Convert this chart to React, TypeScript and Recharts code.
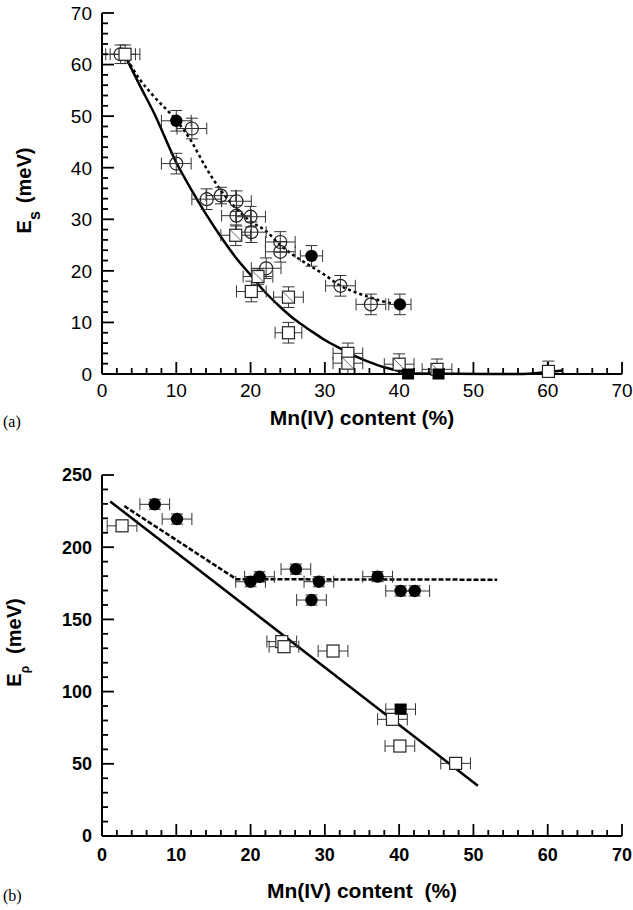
import React from "react";
import {
  ComposedChart,
  Scatter,
  Line,
  XAxis,
  YAxis,
  ErrorBar,
  Label,
} from "recharts";

const FONT = "'Liberation Sans', Arial, Helvetica, sans-serif";

// ---------- panel (a): E_s vs Mn(IV) content ----------
// ey may be [below, above] where the bar stops at the axis
const openCircleA = [
  { x: 2.5, y: 62, ex: 2, ey: 1.8 },
  { x: 12.1, y: 47.6, ex: 2, ey: 2 },
  { x: 10, y: 40.8, ex: 2, ey: 2 },
  { x: 14.1, y: 33.9, ex: 2, ey: 2 },
  { x: 16, y: 34.6, ex: 2, ey: 1.6 },
  { x: 18.1, y: 33.5, ex: 2, ey: 2 },
  { x: 18.1, y: 30.7, ex: 2, ey: 2 },
  { x: 20, y: 30.5, ex: 2, ey: 2 },
  { x: 20.1, y: 27.5, ex: 2, ey: 2 },
  { x: 24, y: 25.6, ex: 2, ey: 2 },
  { x: 24, y: 23.7, ex: 2, ey: 2 },
  { x: 22.1, y: 20.5, ex: 2, ey: 2 },
  { x: 32.1, y: 17.1, ex: 2, ey: 2 },
  { x: 36.2, y: 13.5, ex: 2, ey: 2 },
];
const filledCircleA = [
  { x: 10, y: 49.1, ex: 2, ey: 2 },
  { x: 28.2, y: 22.9, ex: 1.5, ey: 2 },
  { x: 40.1, y: 13.5, ex: 1.5, ey: 2 },
];
const openSquareA = [
  { x: 3.1, y: 62, ex: 2, ey: 1.8 },
  { x: 20.1, y: 16, ex: 2, ey: 2 },
  { x: 25.1, y: 8, ex: 1.8, ey: 2 },
  { x: 33.1, y: 4, ex: 2, ey: 2 },
  { x: 60.1, y: 0.5, ex: 0.6, ey: [0.5, 2] },
];
const diagSquareA = [
  { x: 18, y: 26.9, ex: 2, ey: 2 },
  { x: 21, y: 18.9, ex: 2, ey: 1.5 },
  { x: 25.1, y: 14.9, ex: 2, ey: 2 },
  { x: 33.1, y: 2.1, ex: 2, ey: 2 },
  { x: 40, y: 1.9, ex: 2, ey: [1.9, 2] },
  { x: 45.1, y: 0.9, ex: 2, ey: [0.9, 2] },
];
const filledSquareA = [
  { x: 41.2, y: 0 },
  { x: 45.3, y: 0 },
];
const fitSolidA = [
  { x: 3, y: 62 }, { x: 5, y: 56.2 }, { x: 7, y: 50.6 }, { x: 10, y: 41 },
  { x: 12, y: 35.8 }, { x: 14, y: 31 }, { x: 16, y: 26.6 }, { x: 18, y: 22.6 },
  { x: 20, y: 19.2 }, { x: 22, y: 15.8 }, { x: 24, y: 13 }, { x: 26, y: 10.5 },
  { x: 28, y: 8.5 }, { x: 30, y: 6.6 }, { x: 32, y: 5 }, { x: 34, y: 3.5 },
  { x: 36, y: 2.3 }, { x: 38, y: 1.3 }, { x: 40, y: 0.6 }, { x: 42, y: 0.1 },
  { x: 56, y: 0 }, { x: 60, y: 0.4 }, { x: 62, y: 0.7 },
];
const fitDashedA = [
  { x: 3, y: 62 }, { x: 5, y: 57.3 }, { x: 7, y: 53.8 }, { x: 10, y: 49.2 },
  { x: 12, y: 45.2 }, { x: 14, y: 40 }, { x: 16, y: 35.6 }, { x: 18, y: 32.2 },
  { x: 20, y: 29.6 }, { x: 22, y: 27.8 }, { x: 24, y: 25 }, { x: 26, y: 22.8 },
  { x: 28, y: 21 }, { x: 30, y: 19.2 }, { x: 32, y: 17.2 }, { x: 34, y: 15.9 },
  { x: 36, y: 14.9 }, { x: 38, y: 14 }, { x: 40, y: 13.5 },
];

// ---------- panel (b): E_rho vs Mn(IV) content ----------
const filledCircleB = [
  { x: 7.1, y: 229.7, ex: 2, ey: 3.5 },
  { x: 10.1, y: 219.5, ex: 2, ey: 3.5 },
  { x: 20, y: 176.1, ex: 2, ey: 3.5 },
  { x: 21.2, y: 179.5, ex: 2, ey: 3.5 },
  { x: 26.1, y: 184.8, ex: 2, ey: 3.5 },
  { x: 28.2, y: 163.4, ex: 2, ey: 3.5 },
  { x: 29.2, y: 176.1, ex: 2, ey: 3.5 },
  { x: 37.1, y: 179.6, ex: 2, ey: 3.5 },
  { x: 40.2, y: 169.7, ex: 2, ey: 3.5 },
  { x: 42.1, y: 169.7, ex: 2, ey: 3.5 },
];
const openSquareB = [
  { x: 2.7, y: 214.8, ex: 2, ey: 3.5 },
  { x: 24.2, y: 134.6, ex: 2, ey: 3.5 },
  { x: 24.5, y: 131.1, ex: 2, ey: 3.5 },
  { x: 31.1, y: 128.1, ex: 2, ey: 3.5 },
  { x: 39.1, y: 80.8, ex: 2, ey: 3.5 },
  { x: 40.1, y: 62.3, ex: 2, ey: 3.5 },
  { x: 47.6, y: 50.3, ex: 2, ey: 3.5 },
];
const filledSquareB = [{ x: 40.2, y: 87.8, ex: 2, ey: 3.5 }];
const fitSolidB = [
  { x: 1.1, y: 231.7 },
  { x: 50.6, y: 34.8 },
];
const fitDashedB = [
  { x: 3, y: 228.5 },
  { x: 18.1, y: 177.8 },
  { x: 53.2, y: 177.5 },
];

// ---------- ticks ----------
const xMajor = [0, 10, 20, 30, 40, 50, 60, 70];
const xMinor = [
  2, 4, 6, 8, 12, 14, 16, 18, 22, 24, 26, 28, 32, 34, 36, 38, 42, 44, 46, 48,
  52, 54, 56, 58, 62, 64, 66, 68,
];
const yMajorA = [0, 10, 20, 30, 40, 50, 60, 70];
const yMinorA = [
  2, 4, 6, 8, 12, 14, 16, 18, 22, 24, 26, 28, 32, 34, 36, 38, 42, 44, 46, 48,
  52, 54, 56, 58, 62, 64, 66, 68,
];
const yMajorB = [0, 50, 100, 150, 200, 250];
const yMinorB = [
  10, 20, 30, 40, 60, 70, 80, 90, 110, 120, 130, 140, 160, 170, 180, 190, 210,
  220, 230, 240,
];

const onX = (vals: number[]) => vals.map((v) => ({ x: v, y: 0 }));
const onY = (vals: number[]) => vals.map((v) => ({ x: 0, y: v }));

// ---------- markers ----------
const NoMark = () => <g />;
const OpenCircle = (p: any) => (
  <circle cx={p.cx} cy={p.cy} r={6.5} fill="none" stroke="#222" strokeWidth={1.2} />
);
const FilledCircle = (p: any) => <circle cx={p.cx} cy={p.cy} r={6.2} fill="#000" />;
const OpenSquare = (p: any) => (
  <rect x={p.cx - 6} y={p.cy - 6} width={12} height={12} fill="#fff" stroke="#222" strokeWidth={1.2} />
);
const DiagSquare = (p: any) => (
  <g>
    <rect x={p.cx - 6} y={p.cy - 6} width={12} height={12} fill="#fff" stroke="#222" strokeWidth={1.2} />
    <line x1={p.cx - 6} y1={p.cy - 6} x2={p.cx + 6} y2={p.cy + 6} stroke="#555" strokeWidth={0.9} />
  </g>
);
const FilledSquare = (p: any) => (
  <rect x={p.cx - 6} y={p.cy - 5.5} width={12} height={11} fill="#000" />
);

// inward tick marks drawn as thin filled rects on the axes
const XTickMark = (len: number) => (p: any) => (
  <rect x={p.cx - 0.9} y={p.cy - len} width={1.8} height={len} fill="#000" />
);
const YTickMark = (len: number) => (p: any) => (
  <rect x={p.cx} y={p.cy - 0.9} width={len} height={1.8} fill="#000" />
);

// ---------- tick labels ----------
const makeXLabel = (bold: boolean, size: number, dy: number) => (p: any) => (
  <text x={p.x} y={p.y + dy} textAnchor="middle" fontSize={size} fontWeight={bold ? 700 : 400} fill="#000">
    {p.payload.value}
  </text>
);
const makeYLabel = (bold: boolean, size: number) => (p: any) => (
  <text x={p.x - 10} y={p.y} dy="0.36em" textAnchor="end" fontSize={size} fontWeight={bold ? 700 : 400} fill="#000">
    {p.payload.value}
  </text>
);

const XTitle = ({ viewBox, text, dy }: any) => (
  <text
    x={viewBox.x + viewBox.width / 2}
    y={viewBox.y + dy}
    textAnchor="middle"
    fontSize={21}
    fontWeight={700}
    fill="#000"
    style={{ whiteSpace: "pre" }}
  >
    {text}
  </text>
);

const YTitle = ({ viewBox, sub, subSize, subDy, gap, dx, cyOff }: any) => {
  const x = viewBox.x - dx;
  const y = viewBox.y + viewBox.height / 2 + cyOff;
  return (
    <text
      x={x}
      y={y}
      transform={`rotate(-90, ${x}, ${y})`}
      textAnchor="middle"
      fontSize={20}
      fontWeight={700}
      fill="#000"
    >
      E
      <tspan fontSize={subSize} dy={subDy}>
        {sub}
      </tspan>
      <tspan dy={-subDy} dx={gap}>
        (meV)
      </tspan>
    </text>
  );
};

const errSeries = (data: any[], key: string) => (
  <Scatter key={key} data={data} shape={NoMark} isAnimationActive={false}>
    <ErrorBar dataKey="ex" direction="x" width={6} stroke="#333" strokeWidth={1} isAnimationActive={false} />
    <ErrorBar dataKey="ey" direction="y" width={6} stroke="#333" strokeWidth={1} isAnimationActive={false} />
  </Scatter>
);

const tickSeries = (yMajor: number[], yMinor: number[]) => [
  <Scatter key="txM" data={onX(xMajor)} shape={XTickMark(12)} isAnimationActive={false} />,
  <Scatter key="txm" data={onX(xMinor)} shape={XTickMark(6)} isAnimationActive={false} />,
  <Scatter key="tyM" data={onY(yMajor)} shape={YTickMark(12)} isAnimationActive={false} />,
  <Scatter key="tym" data={onY(yMinor)} shape={YTickMark(6)} isAnimationActive={false} />,
];

// plain frame lines on top and right
const frameAxes = (yMax: number) => [
  <XAxis key="ft" xAxisId="top" orientation="top" type="number" domain={[0, 70]} height={0} tick={false} tickLine={false} axisLine={{ stroke: "#000", strokeWidth: 1.5 }} />,
  <YAxis key="fr" yAxisId="right" orientation="right" type="number" domain={[0, yMax]} width={0} tick={false} tickLine={false} axisLine={{ stroke: "#000", strokeWidth: 1.5 }} />,
];

export default function App() {
  return (
    <div
      style={{
        position: "absolute",
        left: 0,
        top: 0,
        width: 633,
        height: 910,
        background: "#fff",
        fontFamily: FONT,
      }}
    >
      {/* panel (a) */}
      <div style={{ position: "absolute", left: 0, top: 0 }}>
        <ComposedChart width={633} height={440} margin={{ top: 13, right: 11, bottom: 0, left: 42 }}>
          <XAxis
            type="number"
            dataKey="x"
            domain={[0, 70]}
            ticks={xMajor}
            interval={0}
            height={66}
            tickSize={0}
            tickMargin={0}
            tickLine={false}
            tick={makeXLabel(false, 19, 23)}
            axisLine={{ stroke: "#000", strokeWidth: 2 }}
          >
            <Label content={(p: any) => <XTitle {...p} text="Mn(IV) content (%)" dy={51} />} />
          </XAxis>
          <YAxis
            type="number"
            dataKey="y"
            domain={[0, 70]}
            ticks={yMajorA}
            interval={0}
            width={60}
            tickSize={0}
            tickMargin={0}
            tickLine={false}
            tick={makeYLabel(false, 19)}
            axisLine={{ stroke: "#000", strokeWidth: 2 }}
          >
            <Label
              content={(p: any) => (
                <YTitle {...p} sub="s" subSize={16} subDy={9} gap={8} dx={11} cyOff={-3} />
              )}
            />
          </YAxis>
          {frameAxes(70)}

          <Line data={fitSolidA} dataKey="y" type="monotone" stroke="#000" strokeWidth={2.5} dot={false} activeDot={false} isAnimationActive={false} />
          <Line data={fitDashedA} dataKey="y" type="monotone" stroke="#000" strokeWidth={2.5} strokeDasharray="3 3" dot={false} activeDot={false} isAnimationActive={false} />

          {tickSeries(yMajorA, yMinorA)}

          {errSeries(openCircleA, "eoc")}
          {errSeries(filledCircleA, "efc")}
          {errSeries(openSquareA, "eos")}
          {errSeries(diagSquareA, "eds")}

          <Scatter data={openCircleA} shape={OpenCircle} isAnimationActive={false} />
          <Scatter data={filledCircleA} shape={FilledCircle} isAnimationActive={false} />
          <Scatter data={openSquareA} shape={OpenSquare} isAnimationActive={false} />
          <Scatter data={diagSquareA} shape={DiagSquare} isAnimationActive={false} />
          <Scatter data={filledSquareA} shape={FilledSquare} isAnimationActive={false} />
        </ComposedChart>
      </div>

      {/* panel (b) */}
      <div style={{ position: "absolute", left: 0, top: 440 }}>
        <ComposedChart width={633} height={470} margin={{ top: 35, right: 11, bottom: 0, left: 42 }}>
          <XAxis
            type="number"
            dataKey="x"
            domain={[0, 70]}
            ticks={xMajor}
            interval={0}
            height={74}
            tickSize={0}
            tickMargin={0}
            tickLine={false}
            tick={makeXLabel(true, 18, 25)}
            axisLine={{ stroke: "#000", strokeWidth: 2 }}
          >
            <Label content={(p: any) => <XTitle {...p} text="Mn(IV) content  (%)" dy={62} />} />
          </XAxis>
          <YAxis
            type="number"
            dataKey="y"
            domain={[0, 250]}
            ticks={yMajorB}
            interval={0}
            width={60}
            tickSize={0}
            tickMargin={0}
            tickLine={false}
            tick={makeYLabel(true, 18)}
            axisLine={{ stroke: "#000", strokeWidth: 2 }}
          >
            <Label
              content={(p: any) => (
                <YTitle {...p} sub="ρ" subSize={12} subDy={8} gap={12} dx={21} cyOff={-13} />
              )}
            />
          </YAxis>
          {frameAxes(250)}

          <Line data={fitSolidB} dataKey="y" type="linear" stroke="#000" strokeWidth={2.5} dot={false} activeDot={false} isAnimationActive={false} />
          <Line data={fitDashedB} dataKey="y" type="linear" stroke="#000" strokeWidth={2.5} strokeDasharray="5 2" dot={false} activeDot={false} isAnimationActive={false} />

          {tickSeries(yMajorB, yMinorB)}

          {errSeries(filledCircleB, "efcb")}
          {errSeries(openSquareB, "eosb")}
          {errSeries(filledSquareB, "efsb")}

          <Scatter data={openSquareB} shape={OpenSquare} isAnimationActive={false} />
          <Scatter data={filledSquareB} shape={FilledSquare} isAnimationActive={false} />
          <Scatter data={filledCircleB} shape={FilledCircle} isAnimationActive={false} />
        </ComposedChart>
      </div>

      <div style={{ position: "absolute", left: 3, top: 413, fontFamily: "'Liberation Serif', 'Times New Roman', serif", fontSize: 16, lineHeight: "18px" }}>
        (a)
      </div>
      <div style={{ position: "absolute", left: 3, top: 887, fontFamily: "'Liberation Serif', 'Times New Roman', serif", fontSize: 16, lineHeight: "18px" }}>
        (b)
      </div>
    </div>
  );
}
